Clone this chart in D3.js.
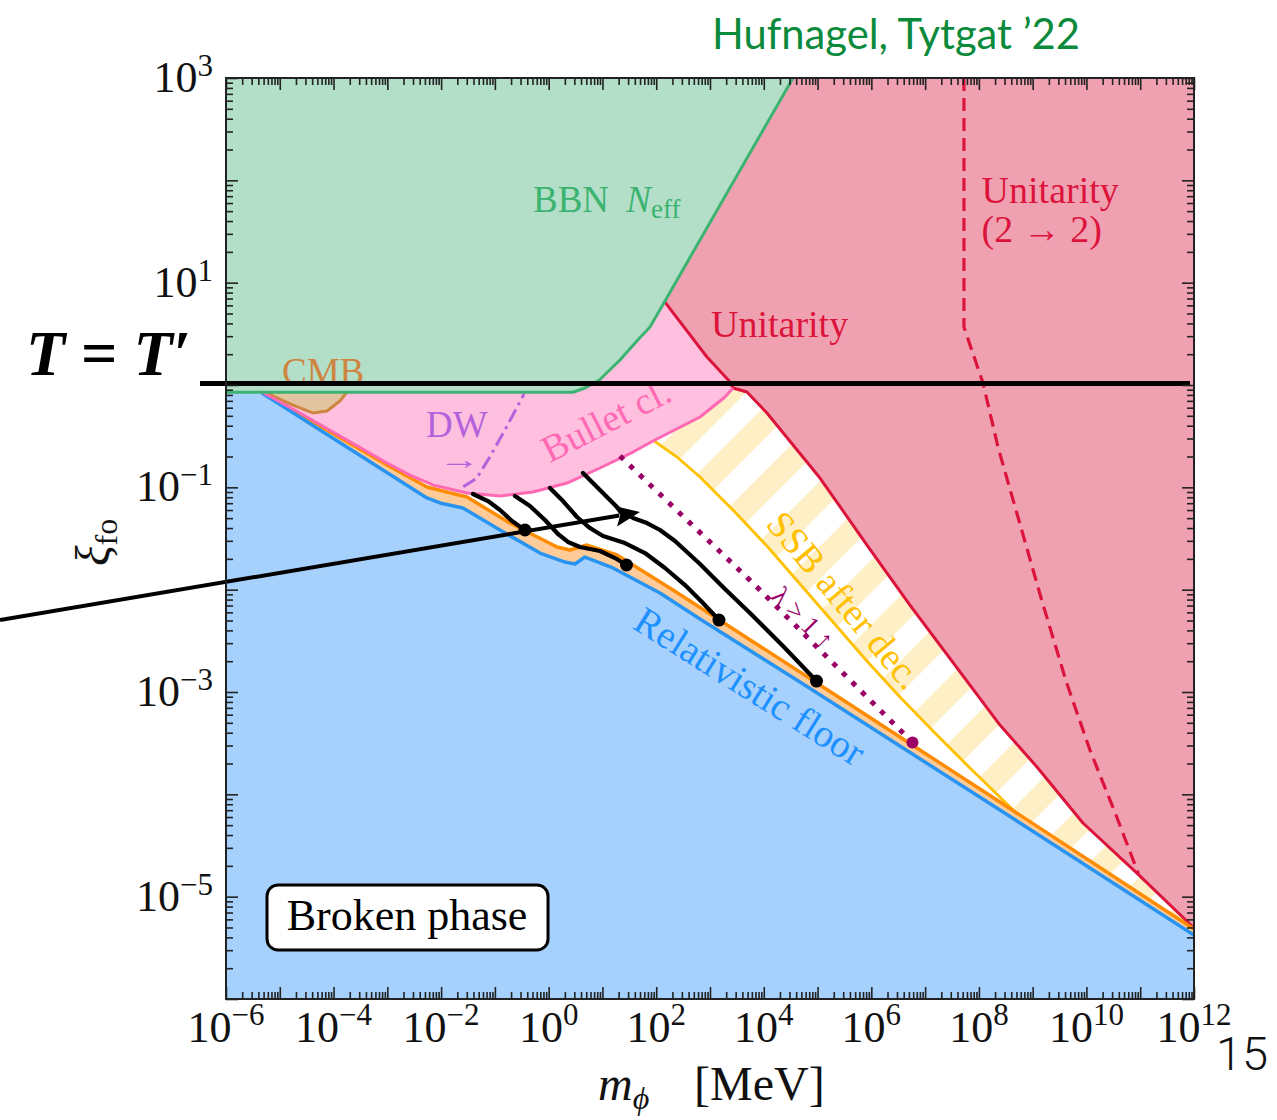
<!DOCTYPE html>
<html>
<head>
<meta charset="utf-8">
<script src="https://cdn.jsdelivr.net/npm/d3@7/dist/d3.min.js"></script>
<style>
html,body{margin:0;padding:0;background:#fff;}
svg{display:block;}
</style>
</head>
<body>
<svg id="chart" width="1277" height="1120"></svg>
<script>
// ---------------- DATA ----------------
// every curve point: [log10(m_phi / MeV), log10(xi_fo)]
const xTickExponents  = d3.range(-6, 13);
const yTickExponents  = d3.range(-6, 4);
const xLabelExponents = [-6, -4, -2, 0, 2, 4, 6, 8, 10, 12];
const yLabelExponents = [3, 1, -1, -3, -5];

const bbnNeff = [[4.543,3],[2.155,0.814],[1.884,0.567],[1.657,0.440],[1.326,0.244],
  [0.943,0.049],[0.675,-0.029],[0.452,-0.071],[-6,-0.071]];

const unitarity = [[2.155,0.814],[2.940,0.276],[3.370,0.032],[3.427,-0.029],[3.687,-0.068],
  [4.059,-0.274],[5.045,-0.909],[5.919,-1.564],[6.718,-2.150],[8.392,-3.323],
  [9.080,-3.733],[9.935,-4.280],[10.939,-4.769],[12,-5.306]];

const unitarity22 = [[7.722,3],[7.722,0.567],[8.076,0.020],[8.355,-0.606],[9.167,-2.101],
  [9.632,-2.912],[10.065,-3.567],[10.562,-4.219],[10.963,-4.772]];

const bulletCluster = [[-5.331,-0.068],[-4.624,-0.274],[-3.880,-0.498],[-3.006,-0.762],
  [-2.579,-0.880],[-2.151,-0.977],[-1.519,-1.056],[-0.905,-1.085],[-0.292,-1.046],
  [0.341,-0.958],[0.954,-0.811],[1.568,-0.655],[1.940,-0.547],[2.814,-0.313],
  [3.278,-0.117],[3.427,-0.029]];

const ssbAfterDec = [[1.940,-0.538],[2.386,-0.704],[2.814,-0.899],[3.427,-1.222],[4.059,-1.573],
  [4.673,-1.945],[5.287,-2.316],[5.900,-2.687],[6.532,-3.049],[7.183,-3.401],
  [7.834,-3.743],[8.633,-4.150]];

const orangeBound = [[-5.331,-0.068],[-3.006,-0.782],[-2.263,-0.997],[-1.519,-1.095],
  [-0.719,-1.349],[0.155,-1.583],[0.396,-1.612],[0.712,-1.564],[1.270,-1.661],
  [2.312,-2.003],[4.673,-2.805],[6.532,-3.440],[8.392,-4.075],[12,-5.316]];

const relativisticFloor = [[-5.331,-0.078],[-2.263,-1.104],[-2.021,-1.153],[-1.593,-1.202],
  [-0.905,-1.417],[-0.161,-1.642],[0.303,-1.730],[0.489,-1.749],[0.675,-1.681],
  [1.196,-1.788],[2.070,-2.033],[2.814,-2.287],[4.673,-2.902],[6.532,-3.528],
  [8.392,-4.153],[12,-5.375]];

const cmb = [[-5.256,-0.068],[-5.126,-0.108],[-4.754,-0.196],[-4.382,-0.274],[-4.122,-0.254],
  [-3.880,-0.156],[-3.750,-0.068],[-3.700,0.150],[-5.300,0.150]];

const domainWall = [[-1.588,-0.994],[-1.339,-0.912],[-1.091,-0.701],[-0.781,-0.408],[-0.459,-0.088]];

const lambdaLimit = [[1.326,-0.694],[3.868,-1.971],[6.625,-3.420]];
const lambdaPoint = [6.765,-3.494];

const tracks = [
  [[-1.407,-1.065],[-1.128,-1.134],[-0.905,-1.222],[-0.682,-1.329],[-0.440,-1.417]],
  [[-0.626,-1.085],[-0.347,-1.183],[-0.069,-1.319],[0.173,-1.456],[0.359,-1.534],
   [0.582,-1.583],[0.954,-1.622],[1.233,-1.691],[1.447,-1.759]],
  [[0.024,-1.007],[0.266,-1.134],[0.527,-1.290],[0.768,-1.398],[1.010,-1.476],
   [1.419,-1.544],[1.791,-1.642],[2.163,-1.788],[2.535,-1.955],[2.851,-2.121],[3.167,-2.297]],
  [[0.638,-0.860],[0.861,-0.977],[1.084,-1.095],[1.326,-1.222],[1.568,-1.300],
   [1.828,-1.349],[2.070,-1.417],[2.349,-1.525],[2.814,-1.749],[3.278,-1.994],
   [3.743,-2.228],[4.357,-2.551],[4.980,-2.893]]
];

const arrowPath = [[-10.202,-2.297],[1.698,-1.241]];
const equalTemp = 0; // log10(xi) of the T = T' line

// ---------------- DRAWING ----------------
const svg = d3.select('#chart');
const M = {left:226, right:1194, top:78, bottom:999};
const x = d3.scaleLog().domain([1e-6, 1e12]).range([M.left, M.right]);
const y = d3.scaleLog().domain([1e-6, 1e3]).range([M.bottom, M.top]);
const px = d => x(Math.pow(10, d[0]));
const py = d => y(Math.pow(10, d[1]));
const line = d3.line().x(px).y(py);
const poly = pts => line(pts) + 'Z';
const serif = "'Liberation Serif','Times New Roman',serif";

const defs = svg.append('defs');
defs.append('clipPath').attr('id','plotClip').append('rect')
  .attr('x',M.left).attr('y',M.top).attr('width',M.right-M.left).attr('height',M.bottom-M.top);
const pat = defs.append('pattern').attr('id','ssbStripes').attr('patternUnits','userSpaceOnUse')
  .attr('width',46).attr('height',46).attr('patternTransform','rotate(45)');
pat.append('rect').attr('width',46).attr('height',46).attr('fill','#ffffff');
pat.append('rect').attr('width',23).attr('height',46).attr('fill','#ffefc6');

const g = svg.append('g').attr('clip-path','url(#plotClip)');
g.append('rect').attr('x',M.left).attr('y',M.top).attr('width',M.right-M.left).attr('height',M.bottom-M.top).attr('fill','#fff');

// SSB stripes region
const yEnd = ssbAfterDec[ssbAfterDec.length-1][0];
const ssbPoly = ssbAfterDec.concat(
  orangeBound.filter(d => d[0] > yEnd),
  unitarity.filter(d => d[0] >= 3.427).reverse(),
  bulletCluster.filter(d => d[0] > 1.94 && d[0] < 3.427).reverse());
g.append('path').attr('d', poly(ssbPoly)).attr('fill','url(#ssbStripes)');

// Unitarity region
g.append('path').attr('d', poly(unitarity.concat([[12,3.2],[2.155,3.2]]))).attr('fill','#f0a1b1');
// Bullet cluster region
g.append('path').attr('d', poly(bulletCluster.concat(unitarity.filter(d => d[0] < 3.427).reverse(), [[-5.331,0.814]])))
  .attr('fill','#ffc0e0');
// orange band + relativistic floor
g.append('path').attr('d', poly([[-6,-0.071]].concat(orangeBound, [[12,-6.3],[-6,-6.3]]))).attr('fill','#ffcc99');
g.append('path').attr('d', poly([[-6,-0.071]].concat(relativisticFloor, [[12,-6.3],[-6,-6.3]]))).attr('fill','#a6d1fc');
// CMB
g.append('path').attr('d', poly(cmb)).attr('fill','#e3c4a0').attr('stroke','#cd853f').attr('stroke-width',3);
// BBN
g.append('path').attr('d', poly(bbnNeff.concat([[-6,3.2],[4.6,3.2]]))).attr('fill','#b3dfc9');

// boundary lines
const stroke = (data, color, w, dash) => {
  const p = g.append('path').attr('d', line(data)).attr('fill','none')
    .attr('stroke', color).attr('stroke-width', w).attr('stroke-linejoin','round');
  if (dash) p.attr('stroke-dasharray', dash);
  return p;
};
stroke(ssbAfterDec, '#ffc000', 2.8);
stroke(unitarity, '#dc143c', 3);
stroke(unitarity22, '#dc143c', 3.2, '13,7');
stroke(orangeBound, '#ff8c00', 3.5);
stroke(relativisticFloor, '#2893f0', 3.5);
stroke(bulletCluster, '#ff69b4', 3);
stroke(bbnNeff, '#3cb371', 3);
stroke(domainWall, '#b462dc', 3, '14,5,3,5');
stroke(lambdaLimit, '#990066', 5, '5,8.5');
g.append('circle').attr('cx', px(lambdaPoint)).attr('cy', py(lambdaPoint)).attr('r', 6).attr('fill','#990066');

tracks.forEach(t => {
  stroke(t, '#000', 4.2).attr('stroke-linecap','round');
  const e = t[t.length-1];
  g.append('circle').attr('cx', px(e)).attr('cy', py(e)).attr('r', 6.5).attr('fill','#000');
});

// labels inside plot
const label = (lx, ly, txt, color, size, rot, anchor) => {
  const t = svg.append('text')
    .attr('transform', `translate(${x(Math.pow(10,lx))},${y(Math.pow(10,ly))})` + (rot ? ` rotate(${rot})` : ''))
    .attr('font-family', serif).attr('font-size', size).attr('fill', color)
    .attr('text-anchor', anchor || 'start');
  if (rot) t.attr('dominant-baseline','central').attr('text-anchor','middle');
  t.text(txt);
  return t;
};
const bbn = svg.append('text').attr('x', x(Math.pow(10,-0.292))).attr('y', y(Math.pow(10,1.690)))
  .attr('font-family', serif).attr('font-size', 37).attr('fill','#3cb371');
bbn.append('tspan').text('BBN ');
bbn.append('tspan').attr('font-style','italic').attr('dx',8).text('N');
bbn.append('tspan').attr('font-size',27).attr('dy',6).text('eff');

label(8.05, 1.778, 'Unitarity', '#dc143c', 38);
label(8.05, 1.397, '(2 → 2)', '#dc143c', 38);
label(3.018, 0.469, 'Unitarity', '#dc143c', 38);
label(-4.959, 0.010, 'CMB', '#cd853f', 37);
label(-2.281, -0.508, 'DW', '#b462dc', 37);
svg.append('text').attr('transform', `translate(${x(Math.pow(10,-2.06))},${y(Math.pow(10,-0.821))}) scale(1.55,1.05)`)
  .attr('font-family', serif).attr('font-size', 27).attr('fill','#b462dc').text('→');
label(1.066, -0.342, 'Bullet cl.', '#ff69b4', 38, -27);
label(5.510, -2.101, 'SSB after dec.', '#ffc000', 38, 50);
label(4.729, -2.277, 'λ > 1 ↑', '#990066', 27, 45);
label(3.743, -2.942, 'Relativistic floor', '#1e90ff', 39, 32);

// Broken phase box
const bx = x(Math.pow(10,-2.634)), by = y(Math.pow(10,-5.199));
svg.append('rect').attr('x', bx-140).attr('y', by-32).attr('width', 281).attr('height', 65)
  .attr('rx', 11).attr('fill','#fff').attr('stroke','#000').attr('stroke-width',3);
svg.append('text').attr('x', bx).attr('y', by+13).attr('text-anchor','middle')
  .attr('font-family', serif).attr('font-size', 44).attr('fill','#000').text('Broken phase');

// T = T' line
svg.append('line').attr('x1', 200).attr('x2', 1190)
  .attr('y1', y(Math.pow(10,equalTemp))-1.5).attr('y2', y(Math.pow(10,equalTemp))-1.5)
  .attr('stroke','#000').attr('stroke-width',5);
const tt = svg.append('text').attr('x', 26).attr('y', 375).attr('font-family', serif)
  .attr('font-size', 64).attr('fill','#000');
tt.append('tspan').attr('font-style','italic').attr('font-weight','bold').text('T');
tt.append('tspan').attr('font-weight','bold').text(' = ');
tt.append('tspan').attr('font-style','italic').attr('font-weight','bold').text('T′');

// arrow
const a0 = [px(arrowPath[0]), py(arrowPath[0])], a1 = [px(arrowPath[1]), py(arrowPath[1])];
const dx = a1[0]-a0[0], dy = a1[1]-a0[1], L = Math.hypot(dx,dy), ux = dx/L, uy = dy/L;
const hl = 25, hw = 10.5;
const bxh = a1[0]-hl*ux, byh = a1[1]-hl*uy;
svg.append('line').attr('x1', a0[0]).attr('y1', a0[1]).attr('x2', bxh+4*ux).attr('y2', byh+4*uy)
  .attr('stroke','#000').attr('stroke-width',4);
svg.append('path').attr('d', `M${a1[0]},${a1[1]} L${bxh - hw*uy},${byh + hw*ux} L${bxh+5*ux},${byh+5*uy} L${bxh + hw*uy},${byh - hw*ux} Z`)
  .attr('fill','#000');

// frame & ticks
const majX = xTickExponents.map(n => Math.pow(10,n));
const minX = []; xTickExponents.slice(0,-1).forEach(n => { for (let k=2;k<10;k++) minX.push(k*Math.pow(10,n)); });
const majY = yTickExponents.map(n => Math.pow(10,n));
const minY = []; yTickExponents.slice(0,-1).forEach(n => { for (let k=2;k<10;k++) minY.push(k*Math.pow(10,n)); });
const tickStyle = sel => { sel.select('.domain').remove(); sel.selectAll('.tick line').attr('stroke','#222').attr('stroke-width',1.6); sel.selectAll('.tick text').remove(); };
[[d3.axisBottom, x, M.bottom, 'x'], [d3.axisTop, x, M.top, 'x'], [d3.axisLeft, y, M.left, 'y'], [d3.axisRight, y, M.right, 'y']]
  .forEach(([fn, sc, pos, k]) => {
    const tr = k === 'x' ? `translate(0,${pos})` : `translate(${pos},0)`;
    svg.append('g').attr('transform', tr).call(fn(sc).tickValues(k==='x'?majX:majY).tickSizeInner(-12).tickSizeOuter(0).tickFormat('')).call(tickStyle);
    svg.append('g').attr('transform', tr).call(fn(sc).tickValues(k==='x'?minX:minY).tickSizeInner(-7).tickSizeOuter(0).tickFormat('')).call(tickStyle);
  });
svg.append('rect').attr('x',M.left).attr('y',M.top).attr('width',M.right-M.left).attr('height',M.bottom-M.top)
  .attr('fill','none').attr('stroke','#222').attr('stroke-width',2);

const expStr = n => n < 0 ? '−' + (-n) : String(n);
xLabelExponents.forEach(n => {
  const t = svg.append('text').attr('x', x(Math.pow(10,n))).attr('y', 1042).attr('text-anchor','middle')
    .attr('font-family', serif).attr('font-size', 44).attr('fill','#111');
  t.append('tspan').text('10');
  t.append('tspan').attr('dy', -17).attr('font-size', 31).text(expStr(n));
});
yLabelExponents.forEach(n => {
  const t = svg.append('text').attr('x', 213).attr('y', y(Math.pow(10,n)) + 14).attr('text-anchor','end')
    .attr('font-family', serif).attr('font-size', 44).attr('fill','#111');
  t.append('tspan').text('10');
  t.append('tspan').attr('dy', -16).attr('font-size', 31).text(expStr(n));
});

// axis titles
const xt = svg.append('text').attr('x', 598).attr('y', 1100).attr('font-family', serif).attr('font-size', 48).attr('fill','#111');
xt.append('tspan').attr('font-style','italic').text('m');
xt.append('tspan').attr('font-style','italic').attr('font-size', 32).attr('dy', 9).text('ϕ');
xt.append('tspan').attr('x', 694).attr('dy', -9).text('[MeV]');
const ytl = svg.append('text').attr('transform','translate(109,566) rotate(-90)').attr('font-family', serif).attr('font-size', 48).attr('fill','#111');
ytl.append('tspan').attr('font-style','italic').text('ξ');
ytl.append('tspan').attr('font-size', 32).attr('dy', 8).text('fo');

// header & page number
svg.append('text').attr('x', 712).attr('y', 49).attr('font-family',"Lato,'Open Sans',sans-serif")
  .attr('font-size', 42).attr('fill','#0a8a3a').attr('textLength', 368).attr('lengthAdjust','spacingAndGlyphs')
  .text('Hufnagel, Tytgat ’22');
svg.append('text').attr('x', 1216).attr('y', 1070).attr('font-family',"Roboto,'Liberation Sans',sans-serif")
  .attr('font-weight', 300).attr('font-size', 47).attr('fill','#111').text('15');
</script>
</body>
</html>
